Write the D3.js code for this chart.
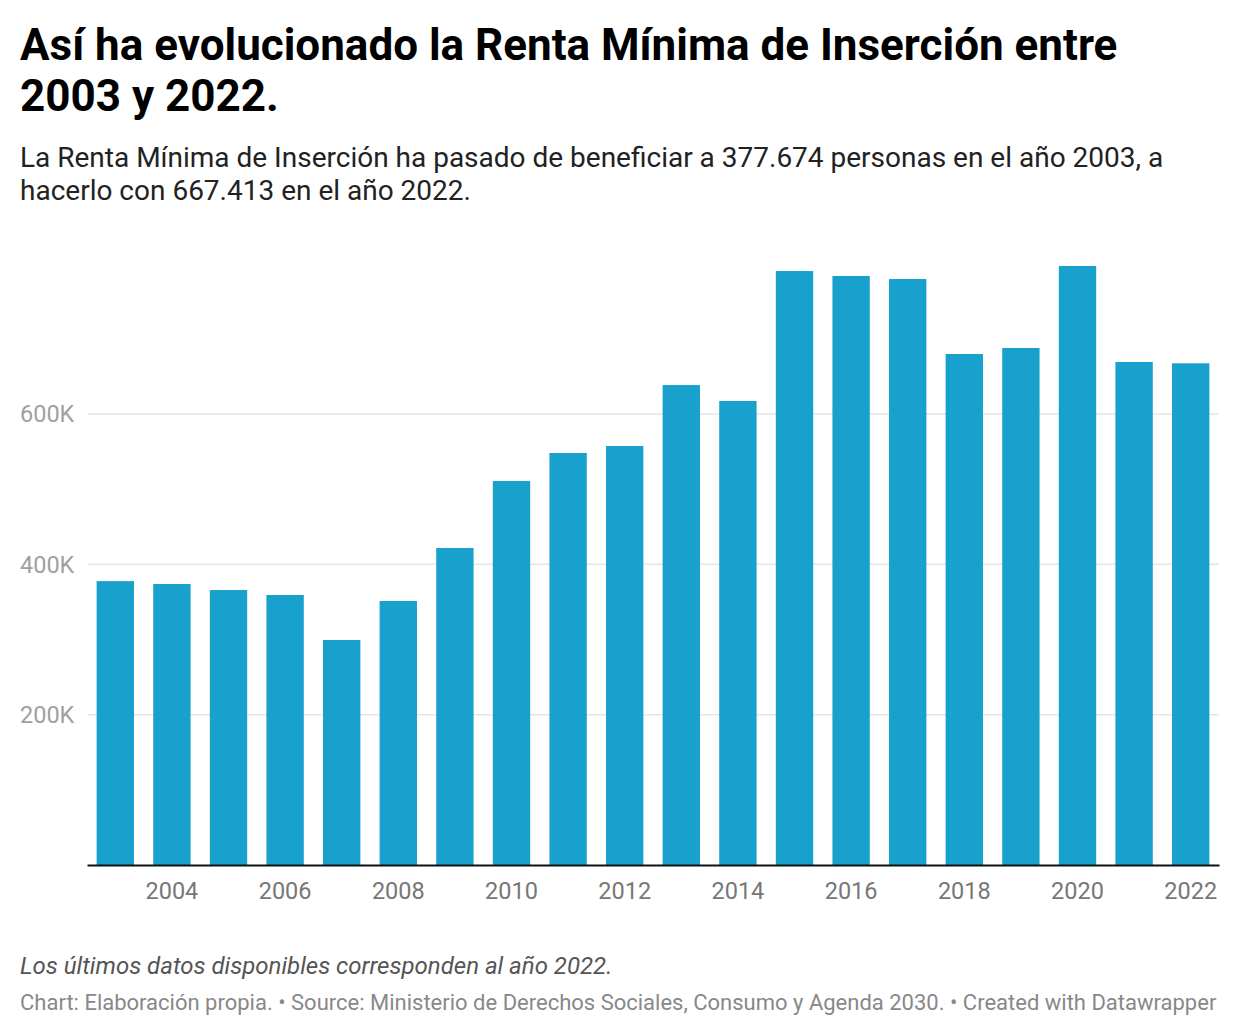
<!DOCTYPE html>
<html>
<head>
<meta charset="utf-8">
<script src="https://cdn.jsdelivr.net/npm/d3@7"></script>
<style>
  body { margin: 0; background: #fff; font-family: Roboto, "Noto Sans", sans-serif; }
</style>
</head>
<body>
<script>
// data (beneficiarios por año)
var years = ["2003","2004","2005","2006","2007","2008","2009","2010","2011","2012",
             "2013","2014","2015","2016","2017","2018","2019","2020","2021","2022"];
var beneficiaries = [377674, 373800, 365800, 359200, 299300, 351200, 421700, 510800, 548100, 557400,
                     638500, 617300, 790200, 783600, 779600, 679800, 687800, 796900, 669200, 667413];
var yTicks = [200000, 400000, 600000];
var xTickYears = ["2004","2006","2008","2010","2012","2014","2016","2018","2020","2022"];

var w = 1240, h = 1036;
var svg = d3.select("body").append("svg")
    .attr("width", w)
    .attr("height", h);

// title
var title = svg.append("text")
    .attr("font-size", 44)
    .attr("font-weight", 700)
    .attr("fill", "#000");
title.append("tspan").attr("x", 20).attr("y", 59.5).text("Así ha evolucionado la Renta Mínima de Inserción entre");
title.append("tspan").attr("x", 20).attr("y", 110.5).text("2003 y 2022.");

// subtitle
var sub = svg.append("text")
    .attr("font-size", 28)
    .attr("fill", "#222");
sub.append("tspan").attr("x", 20).attr("y", 167).text("La Renta Mínima de Inserción ha pasado de beneficiar a 377.674 personas en el año 2003, a");
sub.append("tspan").attr("x", 20).attr("y", 200).text("hacerlo con 667.413 en el año 2022.");

// scales
var x = d3.scaleBand()
    .domain(years)
    .range([87, 1219])
    .paddingInner(0.34)
    .paddingOuter(0.17);

var y = d3.scaleLinear()
    .domain([0, 600000])
    .range([865, 414]);

// gridlines
svg.append("g").selectAll("line")
    .data(yTicks)
    .enter()
    .append("line")
      .attr("x1", 88)
      .attr("x2", 1219)
      .attr("y1", function(d){ return y(d); })
      .attr("y2", function(d){ return y(d); })
      .attr("stroke", "#e5e5e5")
      .attr("stroke-width", 1.5);

// y labels
svg.append("g").selectAll("text")
    .data(yTicks)
    .enter()
    .append("text")
      .attr("x", 20)
      .attr("y", function(d){ return y(d); })
      .attr("dy", "0.36em")
      .attr("font-size", 23.5)
      .attr("fill", "#a0a0a0")
      .text(function(d){ return (d / 1000) + "K"; });

// bars
svg.append("g").selectAll("rect")
    .data(beneficiaries)
    .enter()
    .append("rect")
      .attr("x", function(d, i){ return x(years[i]); })
      .attr("width", x.bandwidth())
      .attr("y", function(d){ return y(d); })
      .attr("height", function(d){ return y(0) - y(d); })
      .attr("fill", "#18a1cd");

// baseline + x axis labels
var xAxis = d3.axisBottom(x)
    .tickValues(xTickYears)
    .tickSize(0)
    .tickPadding(17);

var axis = svg.append("g")
    .attr("transform", "translate(0," + y(0) + ")")
    .call(xAxis);
axis.select(".domain").attr("stroke", "#111").attr("stroke-width", 2);
axis.selectAll("text")
    .attr("font-family", "Roboto, sans-serif")
    .attr("font-size", 23.5)
    .attr("fill", "#777");

// notes
svg.append("text")
    .attr("x", 20)
    .attr("y", 974)
    .attr("font-size", 24)
    .attr("font-style", "italic")
    .attr("fill", "#555")
    .text("Los últimos datos disponibles corresponden al año 2022.");

svg.append("text")
    .attr("x", 20)
    .attr("y", 1010)
    .attr("font-size", 22)
    .attr("fill", "#888")
    .text("Chart: Elaboración propia. • Source: Ministerio de Derechos Sociales, Consumo y Agenda 2030. • Created with Datawrapper");
</script>
</body>
</html>
